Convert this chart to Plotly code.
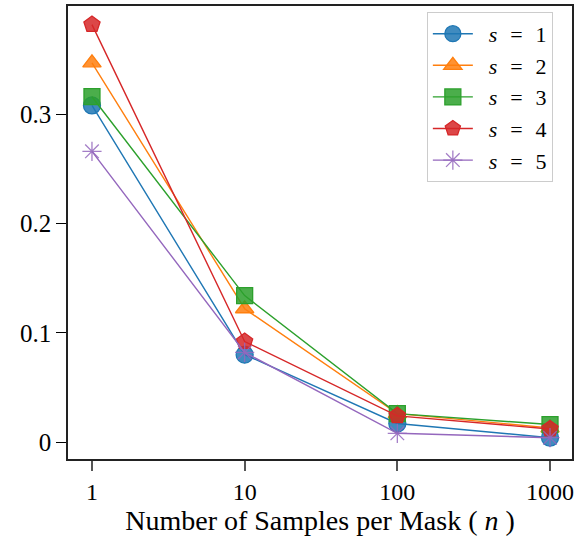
import plotly.graph_objects as go

# Samples per mask (log-scaled x axis)
n_samples = [1, 10, 100, 1000]
x_tick_text = ["1", "10", "100", "1000"]

# Error values for each setting of s
s1_values = [0.308, 0.080, 0.017, 0.004]
s2_values = [0.347, 0.122, 0.026, 0.013]
s3_values = [0.316, 0.134, 0.026, 0.016]
s4_values = [0.382, 0.092, 0.024, 0.012]
s5_values = [0.266, 0.082, 0.008, 0.004]

y_tick_vals = [0, 0.1, 0.2, 0.3]
y_tick_text = ["0", "0.1", "0.2", "0.3"]

sp = "\u2002\u200a"
lead = "\u2002"
series = [
    (f"{lead}<i>s</i>{sp}={sp}1", s1_values, "#1f77b4", "rgba(31,119,180,0.85)", "circle", 17),
    (f"{lead}<i>s</i>{sp}={sp}2", s2_values, "#ff7f0e", "rgba(255,127,14,0.85)", "triangle-up", 16),
    (f"{lead}<i>s</i>{sp}={sp}3", s3_values, "#2ca02c", "rgba(44,160,44,0.85)", "square", 16),
    (f"{lead}<i>s</i>{sp}={sp}4", s4_values, "#d62728", "rgba(214,39,40,0.85)", "pentagon", 17),
    (f"{lead}<i>s</i>{sp}={sp}5", s5_values, "#9467bd", "rgba(148,103,189,0.85)", "asterisk-open", 16),
]

fig = go.Figure()
for name, vals, color, fill, symbol, size in series:
    fig.add_trace(go.Scatter(
        x=n_samples, y=vals, name=name, mode="lines+markers",
        line=dict(color=color, width=1.4),
        marker=dict(symbol=symbol, size=size, color=fill,
                    line=dict(color=color, width=1.3)),
    ))

serif = "Liberation Serif, Times New Roman, serif"
fig.update_layout(
    width=586, height=537,
    margin=dict(l=68, r=14, t=4, b=78),
    plot_bgcolor="white", paper_bgcolor="white",
    font=dict(family=serif, size=25, color="black"),
    showlegend=True,
    legend=dict(
        x=0.712, y=0.987, xanchor="left", yanchor="top",
        bgcolor="white", bordercolor="#cccccc", borderwidth=1,
        font=dict(family=serif, size=22),
        tracegroupgap=0, itemwidth=40,
    ),
    xaxis=dict(
        type="log", range=[-0.157, 3.144],
        tickvals=n_samples, ticktext=x_tick_text,
        ticks="outside", ticklen=10, tickwidth=1.5, tickcolor="#555555",
        showline=True, linecolor="#222222", linewidth=1.5, mirror=True,
        showgrid=False, zeroline=False,
        tickfont=dict(size=24),
        title=dict(text="Number of Samples per Mask ( <i>n</i> )",
                   font=dict(family=serif, size=28), standoff=2),
    ),
    yaxis=dict(
        range=[-0.0155, 0.399],
        tickvals=y_tick_vals, ticktext=y_tick_text,
        ticks="outside", ticklen=10, tickwidth=1.2, tickcolor="black",
        showline=True, linecolor="#222222", linewidth=1.5, mirror=True,
        showgrid=False, zeroline=False,
        tickfont=dict(size=25),
    ),
)

fig.write_html("out.html")
